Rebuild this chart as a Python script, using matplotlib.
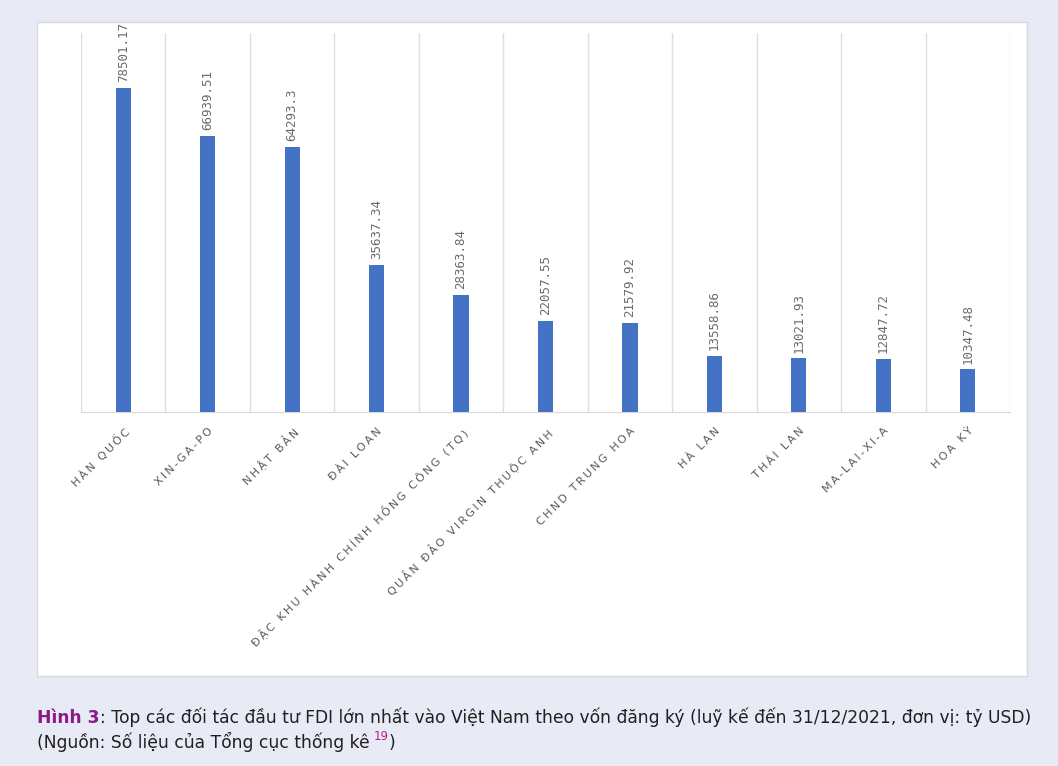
import matplotlib.pyplot as plt
from matplotlib.patches import Rectangle

# Dữ liệu
countries = [
    "HÀN QUỐC", "XIN-GA-PO", "NHẬT BẢN", "ĐÀI LOAN",
    "ĐẶC KHU HÀNH CHÍNH HỒNG CÔNG (TQ)", "QUẦN ĐẢO VIRGIN THUỘC ANH",
    "CHND TRUNG HOA", "HÀ LAN", "THÁI LAN", "MA-LAI-XI-A", "HOA KỲ",
]
values = [78501.17, 66939.51, 64293.3, 35637.34, 28363.84, 22057.55,
          21579.92, 13558.86, 13021.93, 12847.72, 10347.48]
value_labels = ["78501.17", "66939.51", "64293.3", "35637.34", "28363.84", "22057.55",
                "21579.92", "13558.86", "13021.93", "12847.72", "10347.48"]

W, H = 1058, 766
bg = "#e8ebf5"
grey = "#595959"


def spaced(s):
    return "\u2009".join(s)


fig = plt.figure(figsize=(W / 100, H / 100), dpi=100, facecolor=bg)

# khung trắng
fig.patches.append(Rectangle((37 / W, 1 - 676 / H), (1027 - 37) / W, (676 - 22) / H,
                             transform=fig.transFigure, facecolor="white",
                             edgecolor="#d6d9e0", linewidth=1, zorder=-5))

ax = fig.add_axes([81 / W, 1 - 412 / H, (1010 - 81) / W, (412 - 33) / H])
ax.set_facecolor("white")
x = range(len(countries))
ax.bar(x, values, width=0.18, color="#4472c4", zorder=3)

ax.set_xlim(-0.5, len(countries) - 0.5)
ax.set_ylim(0, 91800)

# lưới dọc giữa các nhóm
ax.set_xticks([i - 0.5 for i in range(len(countries) + 1)], minor=True)
ax.grid(True, which="minor", axis="x", color="#dedede", linewidth=1)
ax.tick_params(which="both", length=0)
ax.set_yticks([])
for s in ["left", "right", "top"]:
    ax.spines[s].set_visible(False)
ax.spines["bottom"].set_color("#d9d9d9")

ax.set_xticks(list(x))
ax.set_xticklabels([spaced(c) for c in countries], rotation=45, ha="right",
                   rotation_mode="anchor", fontsize=8, color=grey, family="DejaVu Sans")
ax.tick_params(axis="x", which="major", pad=10)

for i, v in enumerate(values):
    ax.annotate(value_labels[i], (i, v), xytext=(0, 4), textcoords="offset points",
                rotation=90, ha="center", va="bottom", fontsize=9, color="#6a6a6a",
                family="DejaVu Sans Mono")

# chú thích
cap_size = 12.3
t1 = fig.text(37 / W, 1 - 723 / H, "Hình 3", fontsize=cap_size, fontweight="bold",
              color="#8b1a89")
ax.annotate(": Top các đối tác đầu tư FDI lớn nhất vào Việt Nam theo vốn đăng ký "
            "(luỹ kế đến 31/12/2021, đơn vị: tỷ USD)", xy=(1, 0), xycoords=t1,
            va="bottom", ha="left", fontsize=cap_size, color="#231f20",
            annotation_clip=False)
t3 = fig.text(37 / W, 1 - 748 / H, "(Nguồn: Số liệu của Tổng cục thống kê",
              fontsize=cap_size, color="#231f20")
t4 = ax.annotate("19", xy=(1, 0.45), xycoords=t3, xytext=(3, 0), textcoords="offset points",
                 va="bottom", ha="left", fontsize=8.5, color="#c0188c", annotation_clip=False)
ax.annotate(")", xy=(1, 0), xycoords=(t4, t3), va="bottom", ha="left",
            fontsize=cap_size, color="#231f20", annotation_clip=False)

fig.savefig("out.png", dpi=100, facecolor=bg)
